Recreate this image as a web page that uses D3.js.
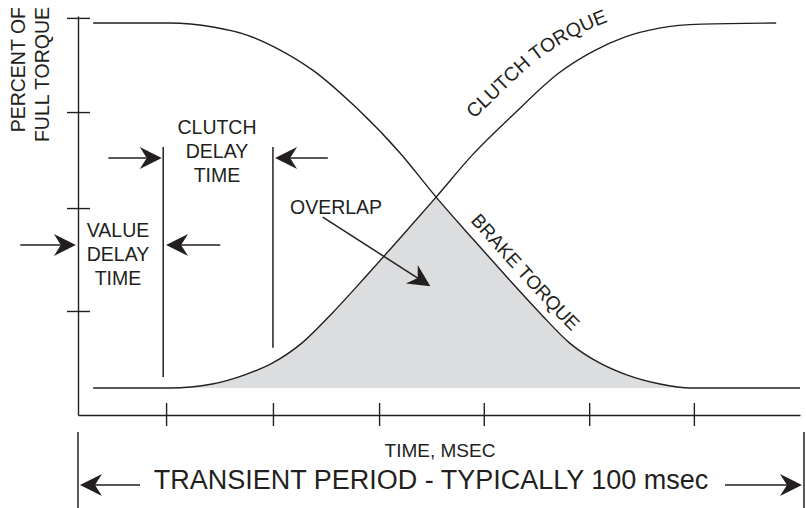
<!DOCTYPE html>
<html>
<head>
<meta charset="utf-8">
<script src="https://cdn.jsdelivr.net/npm/d3@7"></script>
<style>
    body { margin: 0; background: #fff; }
    svg text { font-family: "Liberation Sans", Arial, sans-serif; fill: #231f20; }
</style>
</head>
<body>
<svg id="chart"></svg>
<script>
const WIDTH = 806;
const HEIGHT = 508;
const INK = '#231f20';
const SHADE = '#dcdddf';

// time in ms across the transient period, torque in percent of full torque
const brakeTime = [2.1, 12.7, 18.7, 23.4, 28.0, 32.5, 38.6, 44.6, 49.6, 54.7, 59.4, 64.0, 68.1, 72.3, 76.0, 80.6, 84.8, 100];
const brakeTorque = [100, 100, 98.9, 96.7, 92.6, 87.1, 76.7, 64.4, 52.3, 40.8, 30.4, 20.5, 12.3, 6.8, 3.6, 1.1, 0, 0];

const clutchTime = [2.1, 12.7, 18.6, 23.1, 26.9, 31.0, 35.2, 39.8, 44.5, 49.6, 54.6, 60.5, 66.6, 71.2, 75.8, 80.5, 86.4, 96.7];
const clutchTorque = [0, 0, 1.1, 3.6, 6.8, 12.3, 20.5, 30.4, 40.8, 52.3, 63.8, 75.3, 86.3, 92.1, 96.2, 98.6, 99.7, 100];

const timeTicks = [12.2, 27.0, 41.7, 56.2, 70.8, 85.3];
const torqueTicks = [21.1, 49.3, 75.6, 101.4];

const svg = d3.select('#chart')
    .attr('width', WIDTH)
    .attr('height', HEIGHT);

const x = d3.scaleLinear().domain([0, 100]).range([78, 800]);
const y = d3.scaleLinear().domain([0, 100]).range([388, 23]);
const yAxisScale = d3.scaleLinear().domain([-7.4, 101.9]).range([y(-7.4), y(101.9)]);
const axisY = y(-7.4);

function drawArrow(g, x1, y1, x2, y2)
{
    // line from tail to the notch, dart shaped head at the tip
    const angle = Math.atan2(y2 - y1, x2 - x1);
    const cos = Math.cos(angle);
    const sin = Math.sin(angle);
    g.append('line')
        .attr('x1', x1).attr('y1', y1)
        .attr('x2', x2 - 15 * cos).attr('y2', y2 - 15 * sin)
        .attr('stroke', INK)
        .attr('stroke-width', 1.5);
    g.append('path')
        .attr('d', 'M0,0L-22,-11L-15,0L-22,11Z')
        .attr('transform', `translate(${ x2 },${ y2 }) rotate(${ angle * 180 / Math.PI })`)
        .attr('fill', INK);
}

function offsetAtX(node, targetX)
{
    let lo = 0;
    let hi = node.getTotalLength();
    for (let i = 0; i < 30; i += 1)
    {
        const mid = (lo + hi) / 2;
        if (node.getPointAtLength(mid).x < targetX) lo = mid;
        else hi = mid;
    }
    return lo;
}

// axes
const xAxis = svg.append('g')
    .attr('transform', `translate(0,${ axisY })`)
    .attr('color', INK)
    .call(d3.axisBottom(x).tickValues(timeTicks).tickFormat('').tickSizeOuter(0));
xAxis.selectAll('.tick line').attr('y1', -12).attr('y2', 11);

const yAxis = svg.append('g')
    .attr('transform', `translate(${ x(0) },0)`)
    .attr('color', INK)
    .call(d3.axisLeft(yAxisScale).tickValues(torqueTicks).tickFormat('').tickSizeOuter(0));
yAxis.selectAll('.tick line').attr('x1', -11).attr('x2', 12);

svg.selectAll('.domain, .tick line').attr('stroke-width', 1.4);

// curves and overlap shading
const brakePoints = d3.zip(brakeTime, brakeTorque);
const clutchPoints = d3.zip(clutchTime, clutchTorque);

const line = d3.line()
    .x((d) => x(d[0]))
    .y((d) => y(d[1]))
    .curve(d3.curveMonotoneX);

const area = d3.area()
    .x((d) => x(d[0]))
    .y0(y(0))
    .y1((d) => y(d[1]))
    .curve(d3.curveMonotoneX);

svg.append('clipPath')
    .attr('id', 'under-brake')
    .append('path')
    .attr('d', area(brakePoints));

svg.append('path')
    .attr('d', area(clutchPoints))
    .attr('fill', SHADE)
    .attr('clip-path', 'url(#under-brake)');

const brakePath = svg.append('path')
    .attr('id', 'brake-curve')
    .attr('d', line(brakePoints))
    .attr('fill', 'none')
    .attr('stroke', INK)
    .attr('stroke-width', 1.4);

const clutchPath = svg.append('path')
    .attr('id', 'clutch-curve')
    .attr('d', line(clutchPoints))
    .attr('fill', 'none')
    .attr('stroke', INK)
    .attr('stroke-width', 1.4);

svg.append('text')
    .attr('transform', 'translate(-20,-14)')
    .attr('font-size', 19.5)
    .append('textPath')
    .attr('href', '#clutch-curve')
    .attr('startOffset', offsetAtX(clutchPath.node(), 494))
    .text('CLUTCH TORQUE');

svg.append('text')
    .attr('transform', 'translate(7,-7)')
    .attr('font-size', 19)
    .append('textPath')
    .attr('href', '#brake-curve')
    .attr('startOffset', offsetAtX(brakePath.node(), 463))
    .text('BRAKE TORQUE');

// delay markers
const notes = svg.append('g');
[[11.8, 3.0], [27.0, 11.0]].forEach(([t, bottom]) =>
{
    notes.append('line')
        .attr('x1', x(t)).attr('x2', x(t))
        .attr('y1', y(66)).attr('y2', y(bottom))
        .attr('stroke', INK)
        .attr('stroke-width', 1.5);
});

drawArrow(notes, x(4.2), y(63), x(11.6), y(63));
drawArrow(notes, x(34.6), y(63), x(27.3), y(63));
drawArrow(notes, x(-8.0), y(39.2), x(-0.3), y(39.2));
drawArrow(notes, x(19.7), y(39.2), x(12.2), y(39.2));
drawArrow(notes, x(33.9), y(46.8), x(48.8), y(27.9));

// transient period bracket
[x(0), x(100.55)].forEach((px) =>
{
    notes.append('line')
        .attr('x1', px).attr('x2', px)
        .attr('y1', 432).attr('y2', 508)
        .attr('stroke', INK)
        .attr('stroke-width', 1.5);
});
drawArrow(notes, 140, 485, x(0) + 2, 485);
drawArrow(notes, 725, 485, x(100.55) - 2, 485);

// text
function block(lines, cx, baseline, size)
{
    lines.forEach((s, i) =>
    {
        svg.append('text')
            .attr('x', cx)
            .attr('y', baseline + i * 24)
            .attr('text-anchor', 'middle')
            .attr('font-size', size)
            .text(s);
    });
}

block(['CLUTCH', 'DELAY', 'TIME'], 217, 134, 19.5);
block(['VALUE', 'DELAY', 'TIME'], 118, 237, 19.5);

svg.append('text')
    .attr('x', 290).attr('y', 214)
    .attr('font-size', 19.5)
    .text('OVERLAP');

svg.append('text')
    .attr('x', 440).attr('y', 457)
    .attr('text-anchor', 'middle')
    .attr('font-size', 19)
    .text('TIME, MSEC');

svg.append('text')
    .attr('x', 431).attr('y', 489)
    .attr('text-anchor', 'middle')
    .attr('font-size', 27)
    .text('TRANSIENT PERIOD - TYPICALLY 100 msec');

[['PERCENT OF', 25], ['FULL TORQUE', 49]].forEach(([s, bx]) =>
{
    svg.append('text')
        .attr('transform', `translate(${ bx },7) rotate(-90)`)
        .attr('text-anchor', 'end')
        .attr('font-size', 19.5)
        .text(s);
});
</script>
</body>
</html>
